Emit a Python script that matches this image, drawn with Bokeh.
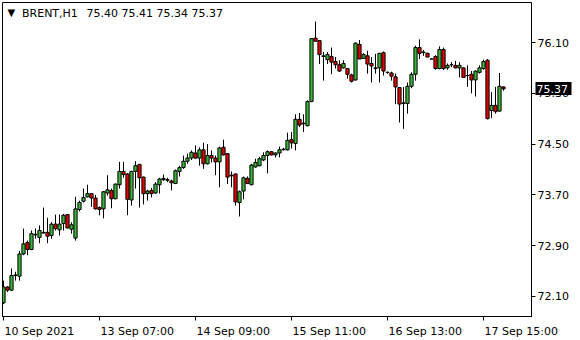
from bokeh.plotting import figure
from bokeh.models import (Range1d, FixedTicker, Label, PrintfTickFormatter, ColumnDataSource,
                          LinearAxis, CustomJSTickFormatter)
from bokeh.embed import file_html
from bokeh.resources import INLINE

symbol = "BRENT,H1"

opens = [72.00, 72.25, 72.20, 72.43, 72.42, 72.77, 72.95, 72.84, 73.07, 73.03,
         73.11, 73.11, 73.06, 73.24, 73.15, 73.25, 73.39, 73.16, 73.02, 73.47,
         73.60, 73.67, 73.72, 73.65, 73.50, 73.48, 73.73, 73.77, 73.64, 73.86,
         74.07, 74.03, 73.62, 74.07, 74.18, 73.98, 73.72, 73.77, 73.73, 73.86,
         73.94, 73.94, 73.92, 73.88, 74.07, 74.13, 74.23, 74.28, 74.36, 74.28,
         74.41, 74.19, 74.32, 74.28, 74.22, 74.45, 74.35, 74.01, 74.03, 73.58,
         73.76, 73.96, 73.86, 74.14, 74.16, 74.25, 74.32, 74.38, 74.33, 74.36,
         74.41, 74.41, 74.57, 74.51, 74.89, 74.82, 74.79, 75.17, 76.17, 76.13,
         75.88, 75.83, 75.88, 75.80, 75.75, 75.70, 75.69, 75.59, 75.51, 76.07,
         75.85, 75.89, 75.77, 75.69, 75.70, 75.94, 75.63, 75.62, 75.56, 75.39,
         75.14, 75.14, 75.41, 75.60, 76.02, 75.94, 75.93, 75.84, 75.88, 75.69,
         75.99, 75.70, 75.75, 75.74, 75.70, 75.70, 75.58, 75.60, 75.51, 75.63,
         75.69, 75.82, 75.03, 75.11, 75.02, 75.40]
highs = [72.35, 72.26, 72.54, 72.49, 72.82, 73.17, 72.98, 73.14, 73.17, 73.22,
         73.50, 73.34, 73.27, 73.39, 73.39, 73.40, 73.40, 73.27, 73.67, 73.61,
         73.80, 73.86, 73.73, 73.70, 73.52, 73.76, 74.01, 73.80, 73.88, 74.22,
         74.22, 74.04, 74.08, 74.23, 74.19, 73.99, 73.78, 73.81, 73.90, 73.97,
         74.02, 73.97, 73.94, 74.10, 74.16, 74.32, 74.35, 74.40, 74.48, 74.45,
         74.52, 74.50, 74.40, 74.32, 74.46, 74.57, 74.36, 74.07, 74.04, 73.77,
         73.99, 73.99, 74.19, 74.27, 74.30, 74.37, 74.40, 74.39, 74.37, 74.46,
         74.44, 74.68, 74.69, 74.97, 74.99, 74.97, 75.19, 76.17, 76.43, 76.13,
         75.95, 75.95, 76.02, 75.87, 75.82, 75.82, 75.70, 75.61, 76.10, 76.14,
         75.93, 75.97, 75.87, 75.92, 75.93, 75.96, 75.64, 75.64, 75.61, 75.39,
         75.40, 75.47, 75.63, 76.05, 76.15, 75.98, 75.94, 75.85, 75.90, 76.04,
         76.02, 75.77, 75.79, 75.81, 75.79, 75.71, 75.74, 75.65, 75.66, 75.74,
         75.83, 75.84, 75.32, 75.40, 75.62, 75.41]
lows = [71.98, 72.17, 72.19, 72.35, 72.35, 72.75, 72.75, 72.83, 73.01, 72.94,
        73.09, 72.94, 73.01, 73.14, 73.06, 73.14, 73.17, 73.09, 72.98, 73.44,
        73.58, 73.66, 73.51, 73.47, 73.38, 73.33, 73.69, 73.49, 73.63, 73.80,
        73.97, 73.38, 73.53, 73.80, 73.50, 73.55, 73.61, 73.66, 73.72, 73.72,
        73.92, 73.90, 73.77, 73.87, 73.99, 74.11, 74.19, 74.25, 74.27, 74.16,
        74.11, 74.18, 74.21, 74.01, 73.82, 74.32, 73.87, 73.82, 73.53, 73.36,
        73.63, 73.87, 73.85, 74.13, 74.15, 74.23, 74.04, 74.32, 74.29, 74.29,
        74.40, 74.40, 74.43, 74.40, 74.77, 74.69, 74.78, 75.16, 76.12, 75.76,
        75.50, 75.76, 75.60, 75.69, 75.64, 75.69, 75.53, 75.47, 75.50, 75.84,
        75.84, 75.61, 75.47, 75.61, 75.47, 75.58, 75.61, 75.50, 75.13, 74.84,
        74.74, 74.98, 75.38, 75.50, 75.84, 75.89, 75.87, 75.84, 75.67, 75.68,
        75.67, 75.67, 75.71, 75.69, 75.55, 75.54, 75.40, 75.30, 75.25, 75.61,
        75.67, 74.89, 74.91, 74.98, 75.01, 75.34]
closes = [72.25, 72.20, 72.43, 72.44, 72.77, 72.93, 72.84, 73.09, 73.08, 73.14,
          73.10, 73.05, 73.24, 73.17, 73.24, 73.38, 73.18, 73.23, 73.48, 73.58,
          73.66, 73.72, 73.65, 73.48, 73.47, 73.75, 73.78, 73.64, 73.87, 74.07,
          74.02, 73.63, 74.07, 74.16, 73.97, 73.72, 73.76, 73.72, 73.87, 73.95,
          73.96, 73.93, 73.89, 74.08, 74.13, 74.23, 74.28, 74.37, 74.28, 74.41,
          74.19, 74.32, 74.28, 74.22, 74.44, 74.33, 73.98, 74.00, 73.59, 73.75,
          73.97, 73.88, 74.17, 74.21, 74.27, 74.32, 74.38, 74.33, 74.36, 74.41,
          74.42, 74.56, 74.52, 74.89, 74.80, 74.83, 75.17, 76.16, 76.12, 75.91,
          75.89, 75.91, 75.79, 75.75, 75.65, 75.77, 75.60, 75.49, 76.09, 75.84,
          75.91, 75.76, 75.73, 75.70, 75.93, 75.65, 75.63, 75.57, 75.40, 75.13,
          75.15, 75.41, 75.60, 76.02, 75.93, 75.95, 75.87, 75.84, 75.69, 75.99,
          75.69, 75.74, 75.75, 75.70, 75.74, 75.55, 75.58, 75.51, 75.65, 75.70,
          75.80, 74.90, 75.11, 75.01, 75.41, 75.37]

time_tick_bars = [0, 24, 48, 72, 96, 120]
time_tick_labels = ["10 Sep 2021", "13 Sep 07:00", "14 Sep 09:00",
                    "15 Sep 11:00", "16 Sep 13:00", "17 Sep 15:00"]
price_ticks = [72.10, 72.90, 73.70, 74.50, 75.30, 76.10]

BULL = "#3cb43c"
BEAR = "#e00000"
FONT = "DejaVu Sans"
FONT_PX = 11

bars = list(range(len(opens)))
src = ColumnDataSource(dict(
    x=bars,
    o=opens, h=highs, l=lows, c=closes,
    top=[max(a, b) for a, b in zip(opens, closes)],
    bottom=[min(a, b) for a, b in zip(opens, closes)],
    color=[BULL if c > o else BEAR for o, c in zip(opens, closes)],
))

W, H = 580, 340
BORDER_L, BORDER_R, BORDER_T, BORDER_B = 2, 49, 2, 24
x_range = Range1d(-0.25, 132.0)
y_range = Range1d(71.785, 76.73)

p = figure(width=W, height=H, output_backend="svg", toolbar_location=None,
           x_range=x_range, y_range=y_range, y_axis_location="right",
           min_border_left=BORDER_L, min_border_right=BORDER_R, min_border_top=BORDER_T,
           min_border_bottom=BORDER_B)
p.background_fill_color = "white"
p.border_fill_color = "white"
p.outline_line_color = "black"
p.outline_line_width = 1
p.grid.visible = False

p.segment(x0="x", y0="l", x1="x", y1="h", source=src, line_color="black", line_width=1)
p.vbar(x="x", top="top", bottom="bottom", width=0.8, source=src,
       fill_color="color", line_color="black", line_width=1)

# ---- price axis (right)
p.yaxis.ticker = FixedTicker(ticks=price_ticks)
p.yaxis.formatter = PrintfTickFormatter(format="%.2f")
p.yaxis.axis_line_color = "black"
p.yaxis.major_tick_out = 4
p.yaxis.major_tick_in = 0
p.yaxis.minor_tick_line_color = None
p.yaxis.major_label_standoff = 2
p.yaxis.major_label_text_font = FONT
p.yaxis.major_label_text_font_size = f"{FONT_PX}px"
p.yaxis.major_label_text_color = "black"

# ---- last price marker: an extra right axis whose thick inward tick forms the black box
last_axis = LinearAxis(y_range_name="default",
                       ticker=FixedTicker(ticks=[closes[-1]]),
                       formatter=PrintfTickFormatter(format="%.2f"))
last_axis.axis_line_color = None
last_axis.major_tick_out = 0
last_axis.major_tick_in = 36
last_axis.major_tick_line_width = 13
last_axis.major_tick_line_color = "black"
last_axis.minor_tick_line_color = None
last_axis.major_label_standoff = -35
last_axis.major_label_text_font = FONT
last_axis.major_label_text_font_size = f"{FONT_PX}px"
last_axis.major_label_text_color = "white"
p.add_layout(last_axis, "right")

# ---- time axis: tick marks at the bar positions (minor ticks), labels left-aligned
# estimated DejaVu Sans advance widths at 11px
char_w = {**{d: 7.0 for d in "0123456789"}, " ": 3.5, "S": 6.98, "e": 6.77, "p": 6.98, ":": 3.7}
px_per_bar = (W - BORDER_L - BORDER_R) / (x_range.end - x_range.start)
label_centres = [b + (1.0 + sum(char_w.get(ch, 7.0) for ch in t) / 2.0) / px_per_bar
                 for b, t in zip(time_tick_bars, time_tick_labels)]

p.xaxis.ticker = FixedTicker(ticks=label_centres, minor_ticks=time_tick_bars)
p.xaxis.formatter = CustomJSTickFormatter(args=dict(labels=time_tick_labels),
                                          code="return labels[index];")
p.xaxis.axis_line_color = "black"
p.xaxis.major_tick_line_color = None
p.xaxis.major_tick_out = 0
p.xaxis.major_tick_in = 0
p.xaxis.minor_tick_line_color = "black"
p.xaxis.minor_tick_out = 4
p.xaxis.minor_tick_in = 0
p.xaxis.major_label_standoff = 4
p.xaxis.major_label_text_font = FONT
p.xaxis.major_label_text_font_size = f"{FONT_PX}px"
p.xaxis.major_label_text_color = "black"

# ---- header
p.add_layout(Label(x=x_range.start, y=y_range.end, x_offset=5, y_offset=-9.5,
                   text="\u25bc", text_align="left", text_baseline="middle",
                   text_font=FONT, text_font_size="10px", text_color="black"))
p.add_layout(Label(x=x_range.start, y=y_range.end, x_offset=19.5, y_offset=-10.5,
                   text=symbol, text_align="left", text_baseline="middle",
                   text_font=FONT, text_font_size=f"{FONT_PX}px", text_color="black"))
p.add_layout(Label(x=x_range.start, y=y_range.end, x_offset=84, y_offset=-10.5,
                   text=f"{opens[-1]:.2f} {highs[-1]:.2f} {lows[-1]:.2f} {closes[-1]:.2f}",
                   text_align="left", text_baseline="middle",
                   text_font=FONT, text_font_size=f"{FONT_PX}px", text_color="black"))

open("out.html", "w").write(file_html(p, INLINE))
